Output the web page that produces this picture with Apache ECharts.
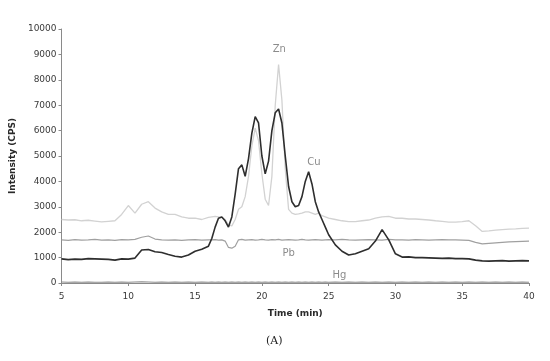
<!DOCTYPE html>
<html>
<head>
<meta charset="utf-8">
<script src="https://cdn.jsdelivr.net/npm/echarts@6/dist/echarts.min.js"></script>
<style>
  html, body { margin: 0; padding: 0; background: #fff; }
  #chart { width: 550px; height: 361px; }
</style>
</head>
<body>
<div id="chart"></div>
<script>
// Tiempos (min): paso 0.5, y 0.25 en la zona de picos
const tiempos = [
  5, 5.5, 6, 6.5, 7, 7.5, 8, 8.5, 9, 9.5, 10, 10.5, 11, 11.5, 12, 12.5, 13, 13.5, 14, 14.5, 15, 15.5, 16,
  16.25, 16.5, 16.75, 17, 17.25, 17.5, 17.75, 18, 18.25, 18.5, 18.75, 19, 19.25, 19.5, 19.75, 20,
  20.25, 20.5, 20.75, 21, 21.25, 21.5, 21.75, 22, 22.25, 22.5, 22.75, 23, 23.25, 23.5, 23.75, 24,
  24.25, 24.5, 24.75, 25,
  25.5, 26, 26.5, 27, 27.5, 28, 28.5, 29, 29.5, 30, 30.5, 31, 31.5, 32, 32.5, 33, 33.5, 34, 34.5,
  35, 35.5, 36, 36.5, 37, 37.5, 38, 38.5, 39, 39.5, 40
];

// Intensidad (CPS) de cada elemento
const cu = [
  950, 920, 940, 930, 960, 950, 940, 930, 900, 950, 940, 980, 1300, 1320, 1230, 1200, 1120, 1050, 1020, 1100, 1250, 1330, 1450,
  1750, 2200, 2550, 2600, 2450, 2200, 2600, 3500, 4500, 4650, 4200, 4900, 5900, 6550, 6300, 5000,
  4300, 4800, 6000, 6700, 6850, 6300, 5000, 3800, 3200, 3000, 3050, 3400, 4000, 4380, 3900, 3200,
  2800, 2500, 2200, 1900,
  1500, 1250, 1100, 1150, 1250, 1350, 1650, 2100, 1700, 1150, 1020, 1030, 1000, 1000, 990, 980, 970, 980, 960,
  960, 950, 900, 870, 860, 870, 880, 860, 870, 880, 870
];

const zn = [
  2500, 2480, 2490, 2450, 2470, 2440, 2410, 2430, 2450, 2700, 3050, 2750, 3100, 3200, 2950, 2800, 2700, 2700, 2600, 2550, 2550, 2500, 2580,
  2600, 2620, 2600, 2580, 2500, 2300, 2250, 2500, 2900, 3000, 3400, 4200, 5400, 6100, 5600, 4300,
  3300, 3050, 4200, 7000, 8600, 7200, 4500, 2900, 2750, 2700, 2720, 2750, 2800, 2800, 2750, 2700,
  2750, 2650, 2600, 2550,
  2500, 2450, 2420, 2420, 2450, 2480, 2550, 2600, 2620, 2550, 2550, 2520, 2520, 2500, 2480, 2450, 2430, 2400, 2400,
  2420, 2450, 2250, 2030, 2050, 2080, 2100, 2120, 2130, 2150, 2160
];

const pb = [
  1700, 1680, 1710, 1690, 1700, 1720, 1690, 1700, 1680, 1710, 1700, 1720, 1800, 1850, 1730, 1700, 1690, 1700, 1680, 1700, 1710, 1690, 1700,
  1700, 1710, 1690, 1700, 1650, 1400, 1370, 1450, 1700, 1720, 1690, 1700, 1710, 1690, 1700, 1720,
  1700, 1690, 1710, 1700, 1720, 1690, 1700, 1710, 1700, 1690, 1700, 1720, 1700, 1690, 1700, 1710,
  1700, 1690, 1700, 1710,
  1700, 1720, 1700, 1690, 1700, 1710, 1700, 1690, 1720, 1700, 1700, 1690, 1710, 1700, 1690, 1700, 1710, 1700, 1700,
  1690, 1680, 1600, 1540, 1560, 1580, 1600, 1620, 1630, 1640, 1650
];

const hg = [
  40, 30, 40, 30, 40, 30, 30, 40, 30, 40, 30, 40, 50, 40, 30, 40, 30, 40, 30, 40, 30, 40, 30,
  40, 30, 40, 30, 40, 30, 40, 30, 40, 30, 40, 30, 40, 30, 40, 30,
  40, 30, 40, 30, 40, 30, 40, 30, 40, 30, 40, 30, 40, 30, 40, 30,
  40, 30, 40, 30,
  40, 30, 40, 30, 40, 30, 40, 30, 40, 30, 40, 30, 40, 30, 40, 30, 40, 30, 40,
  30, 40, 30, 40, 30, 40, 30, 40, 30, 40, 30
];

// Posiciones de las etiquetas de cada elemento (en unidades de datos)
const etiquetas = [
  { nombre: 'Zn', x: 21.3, y: 9200 },
  { nombre: 'Cu', x: 23.9, y: 4750 },
  { nombre: 'Pb', x: 22.0, y: 1150 },
  { nombre: 'Hg', x: 25.8, y: 280 }
];

const marcasY = [0, 1000, 2000, 3000, 4000, 5000, 6000, 7000, 8000, 9000, 10000];

function pares(valores) {
  return tiempos.map((t, i) => [t, valores[i]]);
}

function serie(nombre, valores, color, ancho, z) {
  return {
    name: nombre,
    type: 'line',
    data: pares(valores),
    showSymbol: false,
    symbol: 'none',
    z: z,
    lineStyle: { color: color, width: ancho },
    animation: false
  };
}

const chart = echarts.init(document.getElementById('chart'));

const textoEje = { color: '#3a3a3a', fontFamily: 'DejaVu Sans', fontSize: 9 };

const option = {
  backgroundColor: '#ffffff',
  animation: false,
  grid: { left: 59, right: 21, top: 29, bottom: 78 },
  xAxis: {
    type: 'value',
    min: 5,
    max: 40,
    interval: 5,
    name: 'Time (min)',
    nameLocation: 'middle',
    nameGap: 26,
    nameTextStyle: { color: '#2a2a2a', fontFamily: 'DejaVu Sans', fontSize: 9, fontWeight: 'bold' },
    axisLine: { lineStyle: { color: '#8a8a8a', width: 1 } },
    axisTick: { show: true, length: 3, lineStyle: { color: '#8a8a8a' } },
    axisLabel: Object.assign({ margin: 9 }, textoEje),
    splitLine: { show: false }
  },
  yAxis: {
    type: 'value',
    min: 0,
    max: 10000,
    interval: 1000,
    name: 'Intensity (CPS)',
    nameLocation: 'middle',
    nameGap: 36,
    nameRotate: 90,
    nameTextStyle: { color: '#2a2a2a', fontFamily: 'DejaVu Sans', fontSize: 9, fontWeight: 'bold' },
    axisLine: { show: true, lineStyle: { color: '#8a8a8a', width: 1 } },
    axisTick: { show: true, length: 3, lineStyle: { color: '#8a8a8a' } },
    axisLabel: Object.assign({ margin: 5, formatter: v => marcasY.includes(v) ? String(v) : '' }, textoEje),
    splitLine: { show: false }
  },
  graphic: [
    {
      type: 'text',
      left: 266,
      top: 336,
      style: { text: '(A)', fill: '#222', font: '11px "DejaVu Serif"' }
    }
  ],
  series: [
    serie('Zn', zn, '#d2d2d2', 1.3, 1),
    serie('Pb', pb, '#a0a0a0', 1.2, 2),
    serie('Hg', hg, '#8c8c8c', 1.2, 3),
    serie('Cu', cu, '#2e2e2e', 1.6, 4),
    {
      name: 'etiquetas',
      type: 'scatter',
      symbolSize: 0,
      z: 5,
      data: etiquetas.map(e => ({ value: [e.x, e.y], name: e.nombre })),
      label: {
        show: true,
        position: 'inside',
        formatter: p => p.name,
        color: '#6e6e6e',
        fontFamily: 'DejaVu Sans',
        fontSize: 10
      },
      animation: false
    }
  ]
};

chart.setOption(option);
</script>
</body>
</html>
